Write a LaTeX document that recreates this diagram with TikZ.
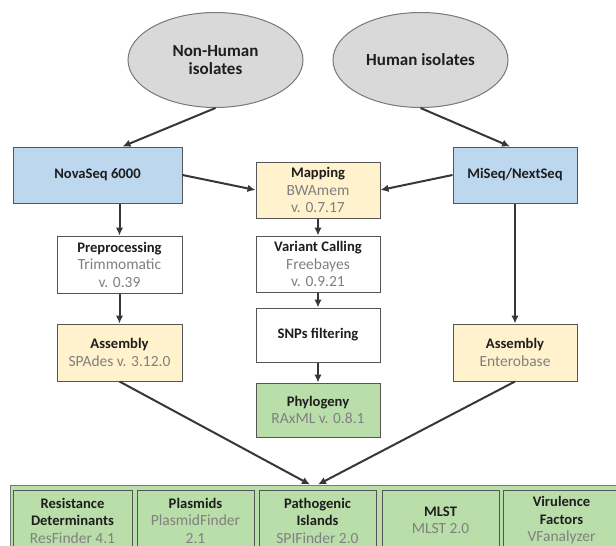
\documentclass[tikz,border=0pt]{standalone}
\usepackage{fontspec}
\setmainfont{Carlito}
\usetikzlibrary{arrows.meta,shapes.geometric}
\definecolor{bluefill}{RGB}{189,215,238}
\definecolor{yelfill}{RGB}{255,242,204}
\definecolor{grnfill}{RGB}{186,222,170}
\definecolor{ellfill}{RGB}{217,217,217}
\definecolor{bordc}{RGB}{85,85,85}
\definecolor{ellbord}{RGB}{120,120,120}
\definecolor{titlec}{RGB}{30,30,30}
\definecolor{toolc}{RGB}{128,128,128}
\definecolor{arrc}{RGB}{55,55,55}
\newcommand{\tooltxt}[1]{{\fontsize{15.5}{17.5}\selectfont\color{toolc}#1}}
\tikzset{
  boxbase/.style={draw=bordc, line width=1pt, inner sep=0pt, align=center,
    text=titlec, font=\fontsize{14.6}{17.5}\selectfont},
  bluebox/.style={boxbase, fill=bluefill},
  yelbox/.style={boxbase, fill=yelfill},
  whitebox/.style={boxbase, fill=white},
  greenbox/.style={boxbase, fill=grnfill},
  isoell/.style={ellipse, draw=ellbord, line width=1pt, fill=ellfill, inner sep=0pt,
    align=center, text=titlec, font=\fontsize{17}{18.5}\selectfont\bfseries},
  arr/.style={draw=arrc, line width=2pt, -{Latex[length=8pt,width=7.5pt]}},
}
\begin{document}
\begin{tikzpicture}[x=1pt,y=-1pt]
\useasboundingbox (0,0) rectangle (616,546);
\clip (0,0) rectangle (616,546);
% ellipses
\node[isoell, minimum width=175pt, minimum height=95pt] (nh) at (215.5,60) {Non-Human\\isolates};
\node[isoell, minimum width=175pt, minimum height=95pt] (hu) at (420.5,60) {Human isolates};
% sequencers
\node[bluebox, minimum width=169pt, minimum height=56pt] (nova) at (97.5,175) {\textbf{NovaSeq 6000}};
\node[bluebox, minimum width=124pt, minimum height=56pt] (miseq) at (515,175) {\textbf{MiSeq/NextSeq}};
% center column
\node[yelbox, minimum width=124pt, minimum height=56pt] (map) at (318,190) {\textbf{Mapping}\\\tooltxt{BWAmem}\\\tooltxt{v. 0.7.17}};
\node[whitebox, minimum width=124pt, minimum height=56pt] (var) at (318,264) {\textbf{Variant Calling}\\\tooltxt{Freebayes}\\\tooltxt{v. 0.9.21}};
\node[whitebox, minimum width=124pt, minimum height=54pt] (snp) at (318,335) {\textbf{SNPs filtering}};
\node[greenbox, minimum width=124pt, minimum height=54pt] (phy) at (318,410) {\textbf{Phylogeny}\\\tooltxt{RAxML v. 0.8.1}};
% left column
\node[whitebox, minimum width=125pt, minimum height=57pt] (pre) at (119.5,264.5) {\textbf{Preprocessing}\\\tooltxt{Trimmomatic}\\\tooltxt{v. 0.39}};
\node[yelbox, minimum width=125pt, minimum height=57pt] (asmL) at (119.5,352.5) {\textbf{Assembly}\\\tooltxt{SPAdes v. 3.12.0}};
% right column
\node[yelbox, minimum width=124pt, minimum height=57pt] (asmR) at (515,352.5) {\textbf{Assembly}\\\tooltxt{Enterobase}};
% bottom panel
\node[draw=ellbord, line width=1pt, fill=grnfill, inner sep=0pt, minimum width=615pt, minimum height=71pt] (panel) at (317.5,520.5) {};
\node[greenbox, minimum width=119pt, minimum height=61pt] (res) at (72.5,520.5) {\textbf{Resistance}\\\textbf{Determinants}\\\tooltxt{ResFinder 4.1}};
\node[greenbox, minimum width=117pt, minimum height=61pt] (pla) at (195.5,520.5) {\textbf{Plasmids}\\\tooltxt{PlasmidFinder}\\\tooltxt{2.1}};
\node[greenbox, minimum width=117pt, minimum height=61pt] (pat) at (317.5,520.5) {\textbf{Pathogenic}\\\textbf{Islands}\\\tooltxt{SPIFinder 2.0}};
\node[greenbox, minimum width=117pt, minimum height=61pt] (mlst) at (440.5,520.5) {\textbf{MLST}\\\tooltxt{MLST 2.0}};
\node[greenbox, minimum width=117pt, minimum height=61pt] (vir) at (561.5,520.5) {\textbf{Virulence}\\\textbf{Factors}\\\tooltxt{VFanalyzer}};
% connectors
\draw[arr] (nh.south) -- ([xshift=25pt]nova.north);
\draw[arr] (hu.south) -- ([xshift=-5pt]miseq.north);
\draw[arr] (nova.east) -- (map.west);
\draw[arr] (miseq.west) -- (map.east);
\draw[arr] ([xshift=22pt]nova.south) -- (pre.north);
\draw[arr] (pre.south) -- (asmL.north);
\draw[arr] (miseq.south) -- (asmR.north);
\draw[arr] (map.south) -- (var.north);
\draw[arr] (var.south) -- (snp.north);
\draw[arr] (snp.south) -- (phy.north);
\draw[arr] (asmL.south) -- ([xshift=-7.5pt]panel.north);
\draw[arr] (asmR.south) -- ([xshift=0.5pt]panel.north);
\end{tikzpicture}
\end{document}
